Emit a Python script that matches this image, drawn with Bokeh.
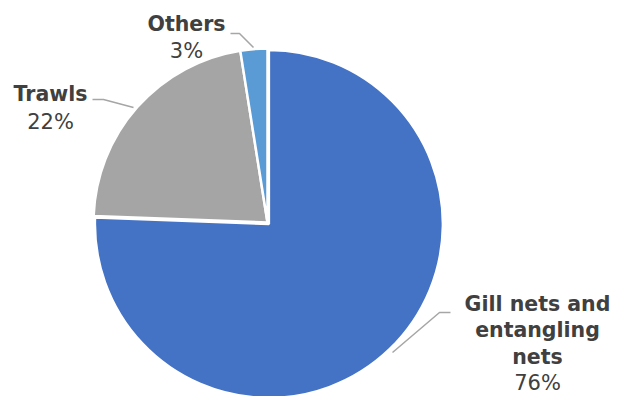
import math
from bokeh.plotting import figure
from bokeh.models import Range1d
from bokeh.core.properties import value
from bokeh.embed import file_html
from bokeh.resources import INLINE

# Data
categories = ["Gill nets and entangling nets", "Trawls", "Others"]
shares = [75.6, 21.9, 2.5]
pct_labels = ["76%", "22%", "3%"]
name_lines = [["Gill nets and", "entangling", "nets"], ["Trawls"], ["Others"]]
colors = ["#4472C4", "#A5A5A5", "#5B9BD5"]

W, H = 611, 396
p = figure(width=W, height=H, output_backend="svg", toolbar_location=None,
           x_range=Range1d(0, W), y_range=Range1d(0, H), min_border=0)
p.axis.visible = False
p.grid.visible = False
p.outline_line_color = None
p.background_fill_color = "white"


def img(x, y):
    # convert picture coordinates to data coordinates
    return x, H - y


cx, cy = img(267, 222)
R = 174
explode = [2.0, 0.0, 0.0]

total = sum(shares)
start = math.pi / 2
for v, col, ex in zip(shares, colors, explode):
    span = 2 * math.pi * v / total
    end = start - span
    mid = start - span / 2
    ox = cx + ex * math.cos(mid)
    oy = cy + ex * math.sin(mid)
    p.wedge(x=[ox], y=[oy], radius=R, radius_units="screen",
            start_angle=[end], end_angle=[start], direction="anticlock",
            fill_color=col, line_color="white", line_width=2.5)
    start = end

# leader lines (picture coords)
leaders = [
    [(450, 312), (439, 312), (392, 352)],
    [(92, 99), (103, 99), (133, 107)],
    [(230, 33), (239, 33), (253, 47)],
]
for pts in leaders:
    xs, ys = zip(*[img(a, b) for a, b in pts])
    p.line(list(xs), list(ys), line_color="#A6A6A6", line_width=1.5)

# label anchors: center x, first baseline y, line step
anchors = [(537, 303, 26.5), (50, 93, 28), (186, 23, 27)]
txt_color = "#404040"
for lines, pct, (ax, ay, step) in zip(name_lines, pct_labels, anchors):
    for i, t in enumerate(lines):
        x, y = img(ax, ay + i * step)
        p.text(x=[x], y=[y], text=[t], text_align="center", text_baseline="alphabetic",
               text_font=value("DejaVu Sans"), text_font_style="bold",
               text_font_size="20.5px", text_color=txt_color)
    x, y = img(ax, ay + len(lines) * step)
    p.text(x=[x], y=[y], text=[pct], text_align="center", text_baseline="alphabetic",
           text_font=value("DejaVu Sans"), text_font_size="21px", text_color=txt_color)

open("out.html", "w").write(file_html(p, INLINE))
